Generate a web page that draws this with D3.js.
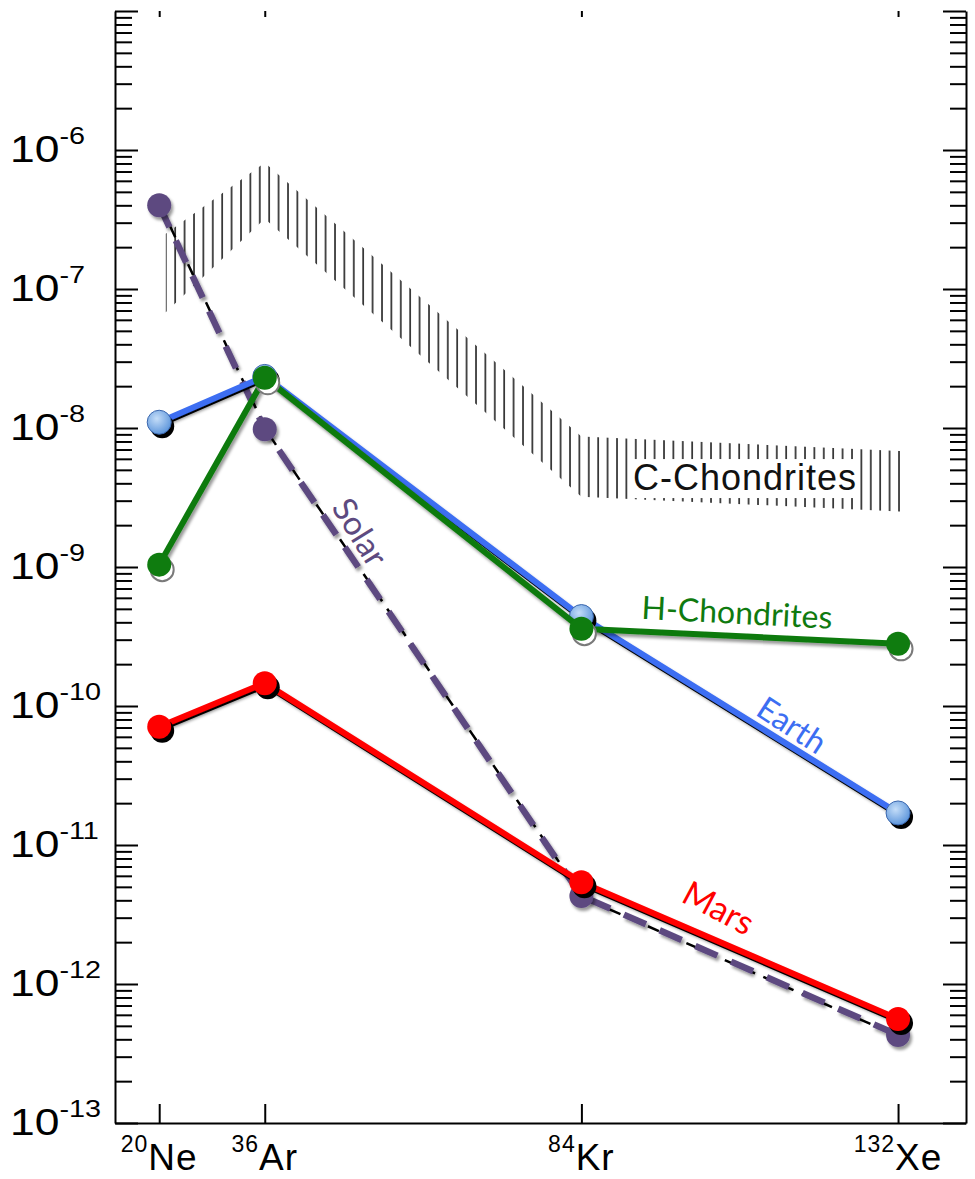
<!DOCTYPE html>
<html>
<head>
<meta charset="utf-8">
<script src="https://cdn.jsdelivr.net/npm/d3@7/dist/d3.min.js"></script>
<style>
  body { margin: 0; background: #fff; }
  svg { display: block; }
  .axis path, .axis line { stroke: #000; stroke-width: 2; }
</style>
</head>
<body>
<div id="chart"></div>
<script>
// isotopes on the x axis
let isotopes = ['Ne', 'Ar', 'Kr', 'Xe'];
let massNumbers = [20, 36, 84, 132];

// abundances, one value per isotope
let solar = [4.0e-7, 9.8e-9, 4.3e-12, 4.3e-13];
let earth = [1.1e-8, 2.35e-8, 4.4e-10, 1.7e-11];
let hChondrites = [1.04e-9, 2.3e-8, 3.6e-10, 2.8e-10];
let mars = [7.1e-11, 1.46e-10, 5.4e-12, 5.6e-13];

// C-chondrite range, drawn as a hatched band
let cBandMass = [21, 36, 84, 133];
let cBandHigh = [2.5e-7, 8.1e-7, 8.7e-9, 6.8e-9];
let cBandLow = [6.8e-8, 3.2e-7, 3.2e-9, 2.5e-9];

// labelled decades on the y axis
let yExponents = [-13, -12, -11, -10, -9, -8, -7, -6];

let width = 975, height = 1179;
let margin = {top: 11, right: 9, bottom: 56, left: 115};

let svg = d3.select('#chart').append('svg').attr('width', width).attr('height', height);
let defs = svg.append('defs');

let xScale = d3.scaleLinear().domain([13.3, 142.3]).range([margin.left, width - margin.right]);
let yScale = d3.scaleLog().domain([1e-13, 1e-5]).range([height - margin.bottom, margin.top]);
let x0 = xScale.range()[0], x1 = xScale.range()[1];
let yBottom = yScale.range()[0], yTop = yScale.range()[1];

// ---- filters / patterns
let shadow = defs.append('filter').attr('id', 'shadow')
  .attr('filterUnits', 'userSpaceOnUse').attr('x', 0).attr('y', 0).attr('width', width).attr('height', height);
shadow.append('feDropShadow').attr('dx', 2).attr('dy', 3).attr('stdDeviation', 1.6)
  .attr('flood-color', '#000').attr('flood-opacity', 0.4);

let hatch = defs.append('pattern').attr('id', 'hatch').attr('patternUnits', 'userSpaceOnUse')
  .attr('x', xScale(cBandMass[0]) - 1).attr('y', 0).attr('width', 9.4).attr('height', 40);
hatch.append('line').attr('x1', 1).attr('x2', 1).attr('y1', 0).attr('y2', 40)
  .attr('stroke', '#222').attr('stroke-width', 1.6);

let blueGrad = defs.append('radialGradient').attr('id', 'blueBall').attr('cx', '40%').attr('cy', '35%').attr('r', '65%');
blueGrad.append('stop').attr('offset', '0%').attr('stop-color', '#c4ddf8');
blueGrad.append('stop').attr('offset', '100%').attr('stop-color', '#5f97dc');

// ---- axes
let majorTicks = d3.range(-13, -4).map(e => Math.pow(10, e));
let minorTicks = [];
d3.range(-13, -5).forEach(e => {
  d3.range(2, 10).forEach(k => minorTicks.push(k * Math.pow(10, e)));
});

// left axis, ticks inward
svg.append('g').attr('class', 'axis').attr('transform', 'translate(' + x0 + ',0)')
  .call(d3.axisRight(yScale).tickValues(majorTicks).tickSize(23).tickSizeOuter(0).tickFormat(''));
svg.append('g').attr('class', 'axis').attr('transform', 'translate(' + x0 + ',0)')
  .call(d3.axisRight(yScale).tickValues(minorTicks).tickSize(17).tickSizeOuter(0).tickFormat(''))
  .call(g => g.select('.domain').remove());

// right axis, ticks inward
svg.append('g').attr('class', 'axis').attr('transform', 'translate(' + x1 + ',0)')
  .call(d3.axisLeft(yScale).tickValues(majorTicks).tickSize(23).tickSizeOuter(0).tickFormat(''));
svg.append('g').attr('class', 'axis').attr('transform', 'translate(' + x1 + ',0)')
  .call(d3.axisLeft(yScale).tickValues(minorTicks).tickSize(16).tickSizeOuter(0).tickFormat(''))
  .call(g => g.select('.domain').remove());

// bottom axis
svg.append('g').attr('class', 'axis').attr('transform', 'translate(0,' + yBottom + ')')
  .call(d3.axisTop(xScale).tickValues(massNumbers).tickSize(19).tickSizeOuter(0).tickFormat(''));
// top: only short ticks, no frame line
svg.append('g').attr('class', 'axis').attr('transform', 'translate(0,' + yTop + ')')
  .call(d3.axisBottom(xScale).tickValues(massNumbers).tickSize(6).tickSizeOuter(0).tickFormat(''))
  .call(g => g.select('.domain').remove());

// y tick labels 10^n (the scanned font is a bit wide, hence the x-stretch)
let yLabels = svg.append('g').attr('font-family', '"Liberation Sans", Arial, sans-serif').attr('fill', '#000')
  .selectAll('text').data(yExponents).join('text')
  .attr('transform', d => 'translate(' + [10, yScale(Math.pow(10, d)) + 12] + ') scale(1.2,1)')
  .attr('text-anchor', 'start');
yLabels.append('tspan').attr('font-size', 37).text('10');
yLabels.append('tspan').attr('font-size', 24).attr('dy', -18).text(d => String(d));

// x tick labels with mass number
let xLabels = svg.append('g').attr('font-family', '"Liberation Sans", Arial, sans-serif').attr('fill', '#000')
  .selectAll('text').data(isotopes).join('text')
  .attr('x', (d, i) => xScale(massNumbers[i]))
  .attr('y', yBottom + 47)
  .attr('text-anchor', 'middle')
  .attr('letter-spacing', 1);
xLabels.append('tspan').attr('font-size', 23).attr('dy', -18).text((d, i) => massNumbers[i]);
xLabels.append('tspan').attr('font-size', 37).attr('dy', 18).text(d => d);

// ---- C-chondrite band
let bandData = cBandMass.map((m, i) => ({m: m, hi: cBandHigh[i], lo: cBandLow[i]}));
let bandArea = d3.area().x(d => xScale(d.m)).y0(d => yScale(d.lo)).y1(d => yScale(d.hi));
svg.append('path').datum(bandData).attr('d', bandArea).attr('fill', 'url(#hatch)');

let cLabelGroup = svg.append('g');
let cLabelBg = cLabelGroup.append('rect').attr('fill', '#fff');
let cLabel = cLabelGroup.append('text')
  .attr('x', xScale(108.8)).attr('y', yScale(4.4e-9))
  .attr('text-anchor', 'middle').attr('dominant-baseline', 'central')
  .attr('font-family', '"Liberation Sans", Arial, sans-serif').attr('font-size', 36)
  .attr('letter-spacing', 1).attr('fill', '#111')
  .text('C-Chondrites');
let bb = cLabel.node().getBBox();
cLabelBg.attr('x', bb.x - 4).attr('y', bb.y + 2).attr('width', bb.width + 6).attr('height', bb.height - 2);

// ---- series
let seriesList = [
  {name: 'Solar', values: solar, color: '#5d4a80', dashed: true},
  {name: 'Mars', values: mars, color: '#ff0000', under: '#000', ball: '#ff0000', ballShadow: 'black'},
  {name: 'Earth', values: earth, color: '#3c6ef2', under: '#000', ball: 'url(#blueBall)', ballShadow: 'black'},
  {name: 'H-Chondrites', values: hChondrites, color: '#0f7a0f', ball: '#0f7c0f', ballShadow: 'open'}
];

let line = d3.line().x(d => xScale(d.m)).y(d => yScale(d.v));

seriesList.forEach(s => {
  let pts = s.values.map((v, i) => ({m: massNumbers[i], v: v}));
  let g = svg.append('g').attr('class', 'series');

  if(s.dashed){
    // black dashes of the original figure, then the coloured dashes
    g.append('path').datum(pts).attr('d', line).attr('fill', 'none')
      .attr('transform', 'translate(2,2)')
      .attr('stroke', '#000').attr('stroke-width', 2.5).attr('stroke-dasharray', '12,9');
    g.append('path').datum(pts).attr('d', line).attr('fill', 'none')
      .attr('stroke', s.color).attr('stroke-width', 6.5).attr('stroke-dasharray', '24,15')
      .attr('filter', 'url(#shadow)');
    g.selectAll('circle.ball').data(pts).join('circle').attr('class', 'ball')
      .attr('cx', d => xScale(d.m)).attr('cy', d => yScale(d.v)).attr('r', 12)
      .attr('fill', s.color).attr('filter', 'url(#shadow)');
    return;
  }

  if(s.under){
    g.append('path').datum(pts).attr('d', line).attr('fill', 'none')
      .attr('transform', 'translate(1,3)')
      .attr('stroke', s.under).attr('stroke-width', 4).attr('stroke-linejoin', 'round');
  }
  g.append('path').datum(pts).attr('d', line).attr('fill', 'none')
    .attr('stroke', s.color).attr('stroke-width', 6).attr('stroke-linejoin', 'round')
    .attr('filter', 'url(#shadow)');

  if(s.ballShadow == 'black'){
    g.selectAll('circle.shade').data(pts).join('circle').attr('class', 'shade')
      .attr('cx', d => xScale(d.m) + 3).attr('cy', d => yScale(d.v) + 4).attr('r', 12)
      .attr('fill', '#000');
  }else{
    g.selectAll('circle.shade').data(pts).join('circle').attr('class', 'shade')
      .attr('cx', d => xScale(d.m) + 3).attr('cy', d => yScale(d.v) + 5).attr('r', 11.5)
      .attr('fill', '#fff').attr('stroke', '#7a7a7a').attr('stroke-width', 2);
  }
  g.selectAll('circle.ball').data(pts).join('circle').attr('class', 'ball')
    .attr('cx', d => xScale(d.m)).attr('cy', d => yScale(d.v)).attr('r', 12)
    .attr('fill', s.ball)
    .attr('stroke', s.name == 'Earth' ? '#3a66ad' : 'none').attr('stroke-width', 1);
});

// ---- series labels
let seriesLabels = [
  {text: 'Solar', m: 50.6, v: 1.8e-9, angle: 58, size: 33, color: '#5d4a80'},
  {text: 'Earth', m: 116, v: 7.4e-11, angle: 33, size: 32, color: '#3c6ef2'},
  {text: 'Mars', m: 104.9, v: 3.6e-12, angle: 28, size: 34, color: '#ff0000'},
  {text: 'H-Chondrites', m: 107.6, v: 4.8e-10, angle: 3, size: 32, color: '#0f7a0f'}
];
svg.append('g').selectAll('text').data(seriesLabels).join('text')
  .attr('transform', d => 'translate(' + [xScale(d.m), yScale(d.v)] + ') rotate(' + d.angle + ')')
  .attr('text-anchor', 'middle').attr('dominant-baseline', 'central')
  .attr('font-family', 'Lato, "Open Sans", sans-serif')
  .attr('font-size', d => d.size)
  .attr('fill', d => d.color)
  .text(d => d.text);
</script>
</body>
</html>
